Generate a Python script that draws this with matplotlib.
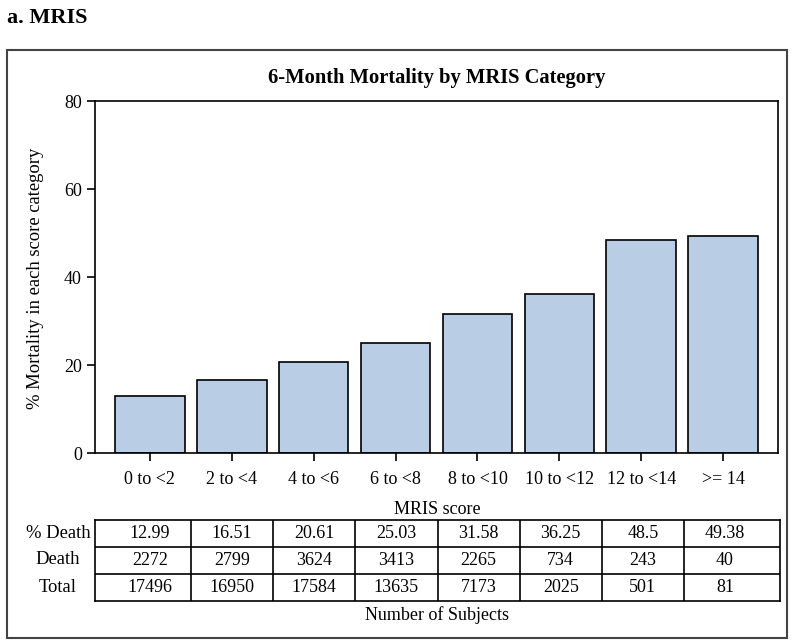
import numpy as np
import matplotlib
matplotlib.use('Agg')
import matplotlib.pyplot as plt
from matplotlib.patches import Rectangle

plt.rcParams['font.family'] = ['Liberation Serif', 'DejaVu Serif']

categories = ['0 to <2', '2 to <4', '4 to <6', '6 to <8', '8 to <10',
              '10 to <12', '12 to <14', '>= 14']
pct_death = [12.99, 16.51, 20.61, 25.03, 31.58, 36.25, 48.5, 49.38]
deaths = [2272, 2799, 3624, 3413, 2265, 734, 243, 40]
totals = [17496, 16950, 17584, 13635, 7173, 2025, 501, 81]
row_labels = ['% Death', 'Death', 'Total']

W, H = 800, 644
fig = plt.figure(figsize=(8, 6.44), dpi=100)

def fx(px):
    return px / W

def fy(py):
    return 1 - py / H

# outer frame
fig.patches.append(Rectangle((fx(7), fy(638)), fx(787) - fx(7), fy(50) - fy(638),
                             transform=fig.transFigure, fill=False,
                             edgecolor='#444444', lw=1.5))

fig.text(fx(7), fy(18), 'a. MRIS', fontsize=16, fontweight='bold',
         ha='left', va='center')

x = np.arange(len(categories))
xlim = (-0.67, len(categories) - 1 + 0.67)

ax = fig.add_axes([fx(95), fy(453), fx(778) - fx(95), fy(101) - fy(453)])
ax.bar(x, pct_death, width=0.85, color='#B9CDE5', edgecolor='black', lw=1.2)
ax.set_xlim(xlim)
ax.set_ylim(0, 80)
ax.set_yticks([0, 20, 40, 60, 80])
ax.set_xticks(x)
ax.set_xticklabels(categories)
ax.tick_params(axis='both', labelsize=13, length=6, width=1.2, direction='out')
ax.tick_params(axis='x', pad=7)
for s in ax.spines.values():
    s.set_linewidth(1.2)
ax.set_title('6-Month Mortality by MRIS Category', fontsize=14.8,
             fontweight='bold', pad=13)
fig.text(fx(36), fy(278), '% Mortality in each score category', fontsize=13.4,
         rotation=90, ha='center', va='center')
fig.text(fx(437), fy(509), 'MRIS score', fontsize=13, ha='center', va='center')

# table under the chart
tab = fig.add_axes([fx(95), fy(601), fx(780) - fx(95), fy(520) - fy(601)])
tab.set_xlim(xlim)
tab.set_ylim(0, 3)
tab.set_xticks([])
tab.set_yticks([])
for s in tab.spines.values():
    s.set_linewidth(1.2)
for i in range(len(categories) - 1):
    tab.axvline(i + 0.5, color='black', lw=1.2)
for j in (1, 2):
    tab.axhline(j, color='black', lw=1.2)

rows = [[f'{v:g}' for v in pct_death], [str(v) for v in deaths],
        [str(v) for v in totals]]
for r, vals in enumerate(rows):
    yy = 2.5 - r
    for i, v in enumerate(vals):
        tab.text(i, yy, v, fontsize=13, ha='center', va='center')
    fig.text(fx(58), fy(533 + 27 * r), row_labels[r], fontsize=13.4,
             ha='center', va='center')

fig.text(fx(437), fy(615), 'Number of Subjects', fontsize=13,
         ha='center', va='center')

fig.savefig('out.png', dpi=100)
